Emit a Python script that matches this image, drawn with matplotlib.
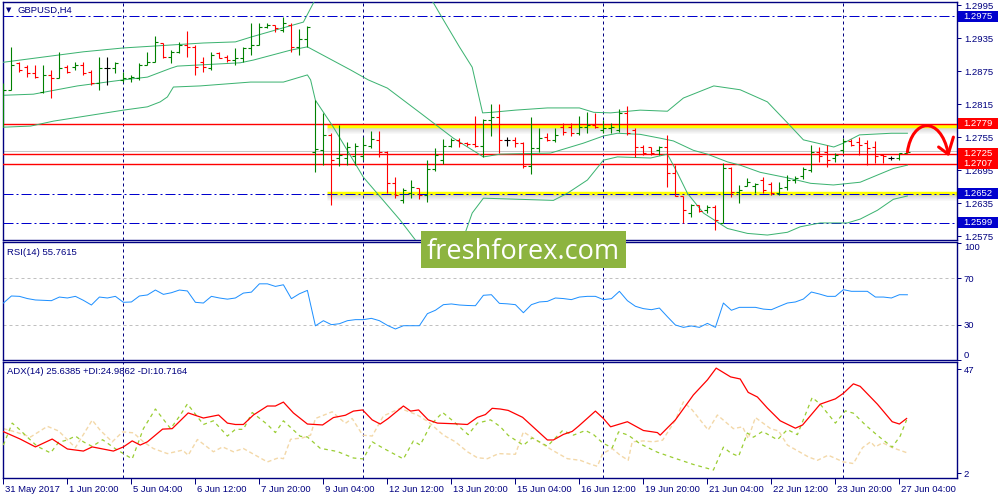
import matplotlib
matplotlib.use("Agg")
import matplotlib.pyplot as plt
import matplotlib.transforms as mtransforms
from matplotlib.patches import Rectangle, PathPatch
from matplotlib.path import Path

plt.rcParams["font.family"] = ["Liberation Sans", "DejaVu Sans"]

# GBPUSD H4 bars, first bar = 31 May 2017 12:00
opens = [1.2780, 1.2840, 1.2890, 1.2882, 1.2871, 1.2837, 1.2868, 1.2862, 1.2882, 1.2882,
         1.2886, 1.2873, 1.2853, 1.2880, 1.2880, 1.2859, 1.2862, 1.2862, 1.2886, 1.2891,
         1.2926, 1.2900, 1.2910, 1.2922, 1.2919, 1.2891, 1.2880, 1.2908, 1.2900, 1.2895,
         1.2899, 1.2917, 1.2922, 1.2955, 1.2959, 1.2950, 1.2959, 1.2919, 1.2933, 1.2728,
         1.2731, 1.2759, 1.2717, 1.2717, 1.2720, 1.2720, 1.2739, 1.2750, 1.2728, 1.2671,
         1.2640, 1.2653, 1.2662, 1.2650, 1.2697, 1.2713, 1.2739, 1.2750, 1.2744, 1.2742,
         1.2739, 1.2786, 1.2791, 1.2750, 1.2750, 1.2744, 1.2702, 1.2735, 1.2755, 1.2750,
         1.2773, 1.2773, 1.2762, 1.2773, 1.2777, 1.2768, 1.2771, 1.2768, 1.2799, 1.2768,
         1.2737, 1.2737, 1.2731, 1.2737, 1.2690, 1.2648, 1.2617, 1.2631, 1.2622, 1.2628,
         1.2599, 1.2699, 1.2655, 1.2666, 1.2666, 1.2677, 1.2670, 1.2653, 1.2664, 1.2677,
         1.2684, 1.2695, 1.2728, 1.2728, 1.2717, 1.2731, 1.2748, 1.2746, 1.2744, 1.2737,
         1.2722, 1.2717, 1.2717, 1.2726]
highs = [1.2853, 1.2919, 1.2891, 1.2886, 1.2886, 1.2886, 1.2877, 1.2910, 1.2886, 1.2891,
         1.2891, 1.2877, 1.2900, 1.2900, 1.2891, 1.2873, 1.2868, 1.2890, 1.2910, 1.2939,
         1.2926, 1.2913, 1.2928, 1.2948, 1.2922, 1.2900, 1.2910, 1.2910, 1.2904, 1.2917,
         1.2919, 1.2962, 1.2962, 1.2962, 1.2959, 1.2973, 1.2962, 1.2951, 1.2957, 1.2822,
         1.2799, 1.2762, 1.2777, 1.2746, 1.2744, 1.2755, 1.2766, 1.2766, 1.2730, 1.2682,
         1.2662, 1.2677, 1.2662, 1.2713, 1.2735, 1.2751, 1.2753, 1.2753, 1.2746, 1.2793,
         1.2788, 1.2815, 1.2815, 1.2755, 1.2755, 1.2746, 1.2791, 1.2771, 1.2762, 1.2771,
         1.2781, 1.2781, 1.2793, 1.2801, 1.2799, 1.2786, 1.2781, 1.2806, 1.2811, 1.2771,
         1.2741, 1.2737, 1.2739, 1.2759, 1.2704, 1.2648, 1.2633, 1.2631, 1.2631, 1.2631,
         1.2708, 1.2701, 1.2668, 1.2681, 1.2671, 1.2682, 1.2673, 1.2673, 1.2686, 1.2684,
         1.2701, 1.2741, 1.2737, 1.2741, 1.2726, 1.2753, 1.2751, 1.2755, 1.2750, 1.2748,
         1.2724, 1.2721, 1.2726, 1.2728]
lows = [1.2773, 1.2840, 1.2873, 1.2864, 1.2862, 1.2835, 1.2826, 1.2862, 1.2871, 1.2877,
        1.2868, 1.2850, 1.2840, 1.2850, 1.2871, 1.2855, 1.2855, 1.2859, 1.2886, 1.2891,
        1.2899, 1.2890, 1.2908, 1.2900, 1.2868, 1.2873, 1.2877, 1.2899, 1.2891, 1.2886,
        1.2891, 1.2904, 1.2922, 1.2953, 1.2946, 1.2946, 1.2910, 1.2904, 1.2919, 1.2691,
        1.2704, 1.2631, 1.2702, 1.2704, 1.2704, 1.2713, 1.2735, 1.2719, 1.2653, 1.2644,
        1.2635, 1.2644, 1.2642, 1.2637, 1.2693, 1.2706, 1.2737, 1.2737, 1.2739, 1.2737,
        1.2719, 1.2757, 1.2726, 1.2739, 1.2737, 1.2699, 1.2688, 1.2728, 1.2748, 1.2746,
        1.2759, 1.2757, 1.2759, 1.2762, 1.2771, 1.2762, 1.2762, 1.2764, 1.2759, 1.2719,
        1.2722, 1.2722, 1.2722, 1.2664, 1.2648, 1.2599, 1.2610, 1.2619, 1.2617, 1.2586,
        1.2599, 1.2646, 1.2635, 1.2666, 1.2653, 1.2653, 1.2650, 1.2650, 1.2659, 1.2671,
        1.2679, 1.2691, 1.2710, 1.2701, 1.2710, 1.2726, 1.2739, 1.2722, 1.2704, 1.2708,
        1.2708, 1.2713, 1.2713, 1.2726]
closes = [1.2840, 1.2886, 1.2877, 1.2871, 1.2864, 1.2868, 1.2862, 1.2880, 1.2873, 1.2886,
          1.2871, 1.2853, 1.2880, 1.2880, 1.2890, 1.2862, 1.2864, 1.2886, 1.2891, 1.2928,
          1.2900, 1.2910, 1.2922, 1.2919, 1.2882, 1.2882, 1.2904, 1.2899, 1.2895, 1.2899,
          1.2917, 1.2922, 1.2955, 1.2959, 1.2953, 1.2962, 1.2919, 1.2933, 1.2955, 1.2733,
          1.2759, 1.2713, 1.2722, 1.2737, 1.2739, 1.2741, 1.2751, 1.2728, 1.2671, 1.2650,
          1.2659, 1.2664, 1.2650, 1.2697, 1.2722, 1.2739, 1.2750, 1.2744, 1.2742, 1.2739,
          1.2786, 1.2791, 1.2750, 1.2750, 1.2744, 1.2702, 1.2735, 1.2753, 1.2750, 1.2759,
          1.2764, 1.2762, 1.2773, 1.2777, 1.2773, 1.2771, 1.2773, 1.2799, 1.2762, 1.2737,
          1.2726, 1.2726, 1.2737, 1.2690, 1.2648, 1.2622, 1.2631, 1.2620, 1.2628, 1.2604,
          1.2699, 1.2655, 1.2659, 1.2673, 1.2670, 1.2659, 1.2653, 1.2662, 1.2677, 1.2681,
          1.2697, 1.2728, 1.2721, 1.2713, 1.2722, 1.2748, 1.2741, 1.2741, 1.2735, 1.2721,
          1.2721, 1.2717, 1.2726, 1.2728]

# Bollinger band vertices (bar index, price)
upper_x = [0, 10, 15, 25, 29, 31, 37.5, 38.8, 40, 45, 50, 53.75, 55, 57, 58.6, 59.9, 61, 64, 68, 72,
           73.8, 75.9, 79.6, 83, 85, 88.8, 92.1, 95.5, 98, 100, 103.8, 105, 107, 111, 113]
upper_y = [1.2891, 1.2910, 1.2917, 1.2926, 1.2928, 1.2937, 1.2964, 1.3000, 1.3040, 1.3077,
           1.3059, 1.2999, 1.2968, 1.2919, 1.2882, 1.2799, 1.2800, 1.2804, 1.2808, 1.2808,
           1.2800, 1.2799, 1.2804, 1.2802, 1.2826, 1.2848, 1.2841, 1.2819, 1.2781, 1.2750,
           1.2737, 1.2744, 1.2759, 1.2762, 1.2762]
middle_x = [0, 3.75, 9.25, 15, 18, 20.9, 21.75, 29.6, 31.25, 35.9, 38, 43.4, 45.6, 48, 52.1, 56.25,
            60, 62.1, 68.4, 72.5, 75, 76.75, 79.6, 82.1, 83.75, 86.25, 88, 90.5, 92.1, 94.6, 98,
            100.9, 103.75, 107.1, 109.25, 111.25, 113]
middle_y = [1.2831, 1.2833, 1.2848, 1.2859, 1.2864, 1.2880, 1.2884, 1.2890, 1.2895, 1.2913,
            1.2919, 1.2877, 1.2859, 1.2844, 1.2799, 1.2753, 1.2719, 1.2724, 1.2726, 1.2744,
            1.2757, 1.2762, 1.2760, 1.2753, 1.2748, 1.2731, 1.2724, 1.2710, 1.2704, 1.2691,
            1.2681, 1.2671, 1.2668, 1.2673, 1.2686, 1.2698, 1.2704]
lower_x = [0, 3.4, 6.25, 15, 18, 19.6, 20.5, 21.25, 24.6, 30.9, 35, 38, 38.4, 39, 41.25, 45, 49.6,
           51.5, 54, 56, 57.75, 58.6, 60, 68.75, 70.5, 73, 75, 76.75, 80.9, 83, 84.25, 85.5, 87.5,
           90.5, 93, 95.5, 98, 99.6, 102.1, 105.5, 107.1, 109.25, 111.25, 113]
lower_y = [1.2773, 1.2775, 1.2784, 1.2804, 1.2810, 1.2819, 1.2828, 1.2846, 1.2848, 1.2855,
           1.2855, 1.2868, 1.2859, 1.2822, 1.2773, 1.2682, 1.2604, 1.2568, 1.2528, 1.2528,
           1.2582, 1.2617, 1.2644, 1.2640, 1.2653, 1.2677, 1.2713, 1.2719, 1.2717, 1.2724,
           1.2690, 1.2653, 1.2617, 1.2589, 1.2580, 1.2577, 1.2582, 1.2592, 1.2599, 1.2599,
           1.2606, 1.2622, 1.2642, 1.2648]

rsi = [48.7, 54.7, 54.4, 52.5, 51.3, 51.0, 50.7, 53.8, 53.0, 54.4,
       51.0, 47.0, 53.8, 53.0, 54.4, 49.3, 49.6, 54.7, 55.6, 59.8,
       56.1, 57.5, 59.8, 59.0, 49.3, 48.7, 54.4, 53.0, 52.0, 53.0,
       57.2, 58.0, 65.1, 65.1, 62.9, 64.3, 52.4, 56.6, 59.5, 29.2,
       33.6, 30.2, 31.0, 33.6, 34.5, 34.5, 35.6, 33.6, 29.6, 26.5,
       29.3, 29.3, 29.3, 39.6, 42.5, 47.3, 47.9, 47.0, 46.6, 46.4,
       55.3, 55.8, 48.4, 48.0, 47.3, 40.4, 47.3, 49.6, 50.1, 53.0,
       52.5, 51.6, 53.8, 54.4, 54.4, 51.6, 52.4, 58.7, 50.7, 45.9,
       43.9, 43.0, 44.4, 37.0, 29.9, 27.9, 29.1, 27.9, 31.3, 27.9,
       48.7, 42.5, 45.0, 45.0, 45.0, 43.5, 43.0, 45.9, 48.7, 49.6,
       52.1, 58.1, 56.4, 54.4, 54.4, 60.1, 58.7, 58.7, 58.7, 53.8,
       53.8, 53.0, 55.8, 55.76]

adx_x = [0, 2.1, 4, 6.1, 8, 10, 11.1, 13.75, 15, 16.1, 17.1, 18, 19.9, 21.1, 23.1, 25, 26.9, 28, 29,
         30, 31.25, 33, 34, 35, 36.25, 38, 39.9, 41.25, 42.75, 43.75, 44.9, 46.1, 47.1, 48.1, 50,
         50.9, 51.9, 53.1, 54.25, 56.5, 58, 59.25, 60.25, 61.1, 62.1, 63.1, 64.9, 68, 68.75, 70,
         71.1, 71.9, 74, 75, 75.9, 78, 80, 81.75, 82.1, 84, 86.25, 88, 89.1, 90.9, 92.1, 93.1,
         94.25, 95.5, 97.1, 99, 99.9, 102.1, 104, 105, 106.25, 107.1, 109.25, 111.1, 112, 112.9]
adx_v = [19.9, 16.7, 13.3, 16.7, 12.4, 11.5, 13.3, 11.5, 13.3, 15.9, 14.1, 15.5, 21.0, 21.2, 28.0,
         25.8, 27.1, 23.6, 23.0, 23.0, 27.1, 31.0, 31.0, 32.7, 28.0, 23.2, 22.8, 26.0, 27.0, 28.8,
         29.3, 25.0, 23.2, 25.6, 31.0, 28.8, 29.3, 25.0, 23.6, 23.3, 23.0, 26.1, 27.3, 30.0, 29.7,
         29.1, 26.1, 16.3, 16.3, 18.7, 20.0, 22.3, 28.8, 25.6, 22.0, 24.2, 20.4, 19.5, 18.4, 25.0,
         35.8, 42.3, 47.4, 43.6, 42.7, 36.9, 34.9, 30.1, 24.6, 21.4, 22.8, 31.8, 34.1, 36.5, 40.6,
         39.5, 31.8, 24.2, 23.2, 25.6]
pdi_x = [0, 1.1, 1.9, 3.1, 4.25, 5.9, 6.9, 8, 9, 10, 11.1, 12.4, 14, 16.1, 17.5, 19, 20.9, 22.1, 23,
         25, 26.25, 28, 29, 30, 31.1, 33, 34, 35, 37.1, 38, 39.6, 41.75, 43.75, 45, 46.1, 47.5, 50,
         51.25, 52.1, 53.4, 54.9, 56.25, 58.1, 59.25, 60.9, 62.1, 63.1, 65, 66.1, 68, 69.9, 71.25,
         72.75, 73.75, 74.9, 76.1, 76.9, 78.1, 79.6, 81.75, 83.75, 86.25, 88.75, 90, 90.9, 91.9,
         93, 93.75, 94.9, 96.75, 98, 99.25, 101.1, 102.1, 104, 105.25, 106.25, 107.75, 109.25,
         111.1, 112.1, 112.9]
pdi_v = [14.1, 23.6, 21.2, 17.2, 13.5, 10.7, 15.3, 16.3, 18.0, 15.5, 13.5, 16.4, 12.5, 8.1, 21.2,
         29.7, 21.2, 27.0, 31.9, 23.0, 24.6, 18.0, 20.9, 20.9, 28.2, 23.0, 19.5, 24.6, 17.9, 17.6,
         12.7, 11.3, 8.5, 8.1, 15.5, 12.7, 8.1, 15.9, 14.1, 22.8, 28.2, 24.4, 18.6, 23.6, 25.0,
         22.1, 18.3, 14.0, 17.2, 13.6, 20.4, 18.4, 20.4, 18.7, 15.0, 12.9, 19.8, 18.4, 14.6, 11.0,
         8.6, 5.7, 3.3, 13.2, 10.7, 9.2, 19.3, 17.5, 20.0, 16.4, 20.8, 18.6, 34.7, 31.8, 23.6,
         28.9, 27.9, 22.8, 18.3, 13.2, 18.0, 25.0]
mdi_x = [0, 1.5, 3.4, 5.5, 6.9, 9, 11.1, 12.1, 13.6, 14.9, 16.25, 17.5, 18.75, 20.5, 22.4, 23.1,
         24.25, 26.25, 27.4, 28.75, 30, 33, 34.4, 35, 35.9, 37.4, 38.4, 39, 41.1, 42.75, 43.6, 44.9,
         46.1, 47.5, 49.6, 51.75, 53.1, 55, 56.5, 58, 59.25, 60.5, 61.9, 64, 65, 66.75, 68.6, 70.5,
         72.1, 73.4, 74.25, 74.9, 76.1, 77.1, 78.1, 78.6, 80, 81.25, 82.4, 84, 85, 86.1, 88.1, 89.25,
         91.25, 92.4, 93.1, 94, 95.9, 96.9, 98, 100.6, 101.75, 103.1, 105, 106.25, 107.4, 108.4,
         109, 109.9, 111.1, 113]
mdi_v = [21.2, 19.8, 17.6, 22.2, 20.2, 13.0, 24.9, 20.5, 15.5, 19.8, 19.4, 15.5, 12.6, 10.4, 11.9,
         9.7, 16.5, 11.2, 13.3, 11.2, 12.6, 6.8, 8.6, 8.2, 16.6, 17.2, 18.4, 25.6, 28.5, 23.5, 25.6,
         18.4, 18.0, 26.7, 30.0, 27.1, 24.2, 18.4, 15.5, 11.2, 8.6, 8.2, 10.4, 10.1, 19.8, 15.9,
         11.9, 8.2, 7.5, 5.8, 4.9, 10.4, 12.6, 9.7, 7.5, 15.5, 15.9, 15.5, 16.2, 24.9, 32.8, 29.3,
         20.6, 27.1, 21.2, 22.0, 16.9, 26.0, 21.2, 20.2, 14.1, 9.0, 7.5, 9.7, 6.8, 6.1, 13.0, 15.5,
         13.3, 15.1, 13.0, 10.7]

price_ticks = [1.2575, 1.2635, 1.2695, 1.2755, 1.2815, 1.2875, 1.2935, 1.2995]
red_levels = [1.2779, 1.2725, 1.2707]
blue_levels = [1.2975, 1.2652, 1.2599]
zone_levels = [1.2776, 1.2654]
zone_start = 40.5
grey_level = 1.2729
week_starts = [15, 45, 75, 105]
rsi_levels = [70, 30]
tick_bars = [0, 8, 16, 24, 32, 40, 48, 56, 64, 72, 80, 88, 96, 104, 112]
tick_labels = ["31 May 2017", "1 Jun 20:00", "5 Jun 04:00", "6 Jun 12:00", "7 Jun 20:00",
               "9 Jun 04:00", "12 Jun 12:00", "13 Jun 20:00", "15 Jun 04:00", "16 Jun 12:00",
               "19 Jun 20:00", "21 Jun 04:00", "22 Jun 12:00", "23 Jun 20:00", "27 Jun 04:00"]

# hand drawn forecast arrow (bar index, price)
arrow_x = [113, 113.6, 117.1, 118.1]
arrow_y = [1.2728, 1.2789, 1.2795, 1.2726]
head_x = [116.9, 118.1, 118.75]
head_y = [1.2737, 1.2724, 1.2755]

NAVY = "#000080"
BULL = "#008000"
BEAR = "#ff0000"
BAND = "#3cb371"
LBLUE = "#0000cd"
px = 0.72  # one screen pixel in points

fig = plt.figure(figsize=(10, 5), dpi=100)
ax = fig.add_axes([0.003, 0.52, 0.954, 0.476])
ax_rsi = fig.add_axes([0.003, 0.28, 0.954, 0.236])
ax_adx = fig.add_axes([0.003, 0.044, 0.954, 0.232])

bars = list(range(len(opens)))

for a in (ax, ax_rsi, ax_adx):
    a.set_xlim(-0.05, 119.2)
    for s in a.spines.values():
        s.set_color(NAVY)
        s.set_linewidth(1.0)
    a.yaxis.tick_right()
    a.tick_params(axis="y", colors=NAVY, length=3, width=px, labelsize=6.8, pad=2)
    a.tick_params(axis="x", bottom=False, labelbottom=False)
    for w in week_starts:
        a.axvline(w, color=NAVY, lw=px, ls=(0, (3, 3)), zorder=1)

# ---- price panel
ax.set_ylim(1.2568, 1.30005)
ax.set_yticks(price_ticks)
ax.set_yticklabels([f"{p:.4f}" for p in price_ticks])

ax.axhline(grey_level, color="#c8c8c8", lw=px, zorder=2)
for lv in zone_levels:
    for k in range(1, 7):
        shift = mtransforms.offset_copy(ax.transData, fig=fig, y=-(1.5 + k), units="dots")
        ax.hlines(lv, zone_start, 119.2, colors="#7f7f7f", lw=px,
                  alpha=0.35 * (1 - k / 7), transform=shift, zorder=2)
    ax.hlines(lv, zone_start, 119.2, colors="#ffff00", lw=2.5, zorder=2.5)
for lv in red_levels:
    ax.axhline(lv, color=BEAR, lw=1.0, zorder=3)
for lv in blue_levels:
    ax.axhline(lv, color=LBLUE, lw=px, ls=(0, (10, 3, 2, 3)), zorder=3)

for bx, by in ((upper_x, upper_y), (middle_x, middle_y), (lower_x, lower_y)):
    ax.plot(bx, by, color=BAND, lw=px, zorder=3.5)

cols = []
for o, c in zip(opens, closes):
    cols.append(BULL if c > o else (BEAR if c < o else "black"))
ax.vlines(bars, lows, highs, colors=cols, lw=0.8, zorder=4)
ax.hlines(opens, [b - 0.375 for b in bars], bars, colors=cols, lw=0.8, zorder=4)
ax.hlines(closes, bars, [b + 0.375 for b in bars], colors=cols, lw=0.8, zorder=4)

curve = Path(list(zip(arrow_x, arrow_y)), [Path.MOVETO, Path.CURVE4, Path.CURVE4, Path.CURVE4])
ax.add_patch(PathPatch(curve, fc="none", ec="red", lw=2.2, capstyle="round", zorder=6))
ax.plot(head_x, head_y, color="red", lw=2.2, solid_capstyle="round", solid_joinstyle="round", zorder=6)

box_tr = mtransforms.blended_transform_factory(ax.transAxes, ax.transData)
boxed = [(lv, BEAR) for lv in red_levels] + [(lv, LBLUE) for lv in blue_levels]
for lv, col in boxed:
    ax.add_patch(Rectangle((1.001, lv - 0.001), 40 / 954, 0.002, transform=box_tr,
                           fc=col, ec="none", clip_on=False, zorder=10))
    ax.text(1.0065, lv, f"{lv:.4f}", transform=box_tr, color="white", fontsize=6.8,
            ha="left", va="center", clip_on=False, zorder=11)

ax.text(0.0055, 0.966, "\u25bc", transform=ax.transAxes, fontsize=5, color=NAVY,
        ha="center", va="center", family=["DejaVu Sans"])
ax.text(0.0157, 0.966, "GBPUSD,H4", transform=ax.transAxes, fontsize=6.8, color=NAVY,
        ha="left", va="center")

# ---- RSI panel
ax_rsi.set_ylim(0, 100.85)
for lv in rsi_levels:
    ax_rsi.axhline(lv, color="#c0c0c0", lw=px, ls=(0, (3, 3)), zorder=2)
ax_rsi.plot(bars, rsi, color="#1e90ff", lw=px, zorder=3)
ax_rsi.set_yticks([100, 70, 30, 0])
ax_rsi.set_yticklabels(["100", "70", "30", "0"])
rl = ax_rsi.get_yticklabels()
rl[0].set_verticalalignment("top")
rl[-1].set_verticalalignment("bottom")
ax_rsi.text(0.004, 0.915, "RSI(14) 55.7615", transform=ax_rsi.transAxes, fontsize=6.8,
            color=NAVY, ha="left", va="center")

# ---- ADX panel
ax_adx.set_ylim(-0.16, 50.05)
ax_adx.plot(mdi_x, mdi_v, color="#f3d8a8", lw=1.0, ls=(0, (3, 2)), zorder=2)
ax_adx.plot(pdi_x, pdi_v, color="#9acd32", lw=0.9, ls=(0, (3, 3)), zorder=3)
ax_adx.plot(adx_x, adx_v, color="red", lw=0.9, zorder=4)
ax_adx.set_yticks([47, 2])
ax_adx.set_yticklabels(["47", "2"])
ax_adx.text(0.004, 0.922, "ADX(14) 25.6385 +DI:24.9862 -DI:10.7164", transform=ax_adx.transAxes,
            fontsize=6.8, color=NAVY, ha="left", va="center")

ax_adx.tick_params(axis="x", bottom=True, labelbottom=True, length=4, width=px,
                   colors=NAVY, labelsize=6.8, pad=1)
ax_adx.set_xticks(tick_bars)
ax_adx.set_xticklabels(tick_labels)
nudge = mtransforms.ScaledTranslation(2 / 100, 0, fig.dpi_scale_trans)
for lbl in ax_adx.get_xticklabels():
    lbl.set_horizontalalignment("left")
    lbl.set_transform(lbl.get_transform() + nudge)

# ---- watermark
fig.add_artist(Rectangle((0.421, 0.464), 0.205, 0.074, transform=fig.transFigure,
                         fc="#8db440", ec="none", zorder=20))
fig.text(0.5235, 0.482, "freshforex.com", color="white", fontsize=19.5, ha="center",
         va="baseline", family=["Open Sans", "DejaVu Sans"], zorder=21)

fig.savefig("out.png", dpi=100)
